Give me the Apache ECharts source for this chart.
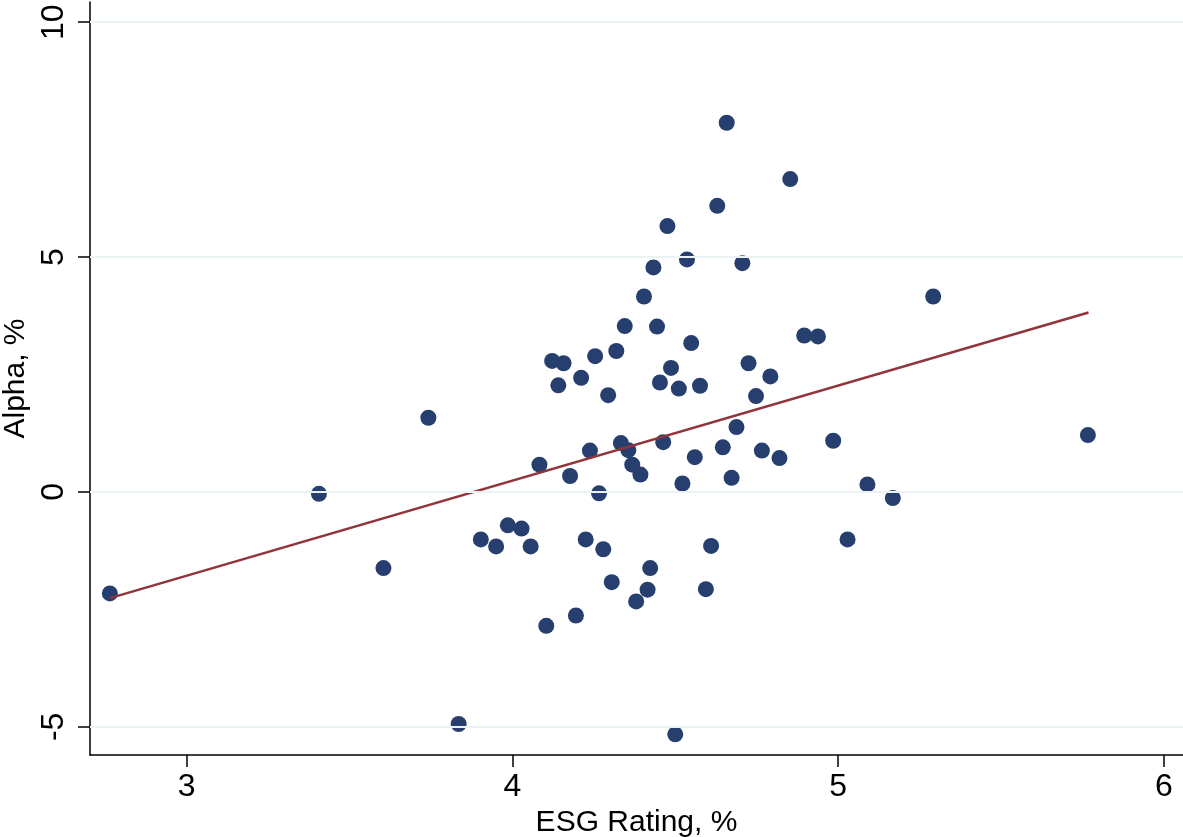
<!DOCTYPE html>
<html>
<head>
<meta charset="utf-8">
<script src="https://cdn.jsdelivr.net/npm/echarts@6/dist/echarts.min.js"></script>
<style>
html,body{margin:0;padding:0;background:#fff;}
#chart{width:1183px;height:837px;}
</style>
</head>
<body>
<div id="chart"></div>
<script>
// ESG Rating (%) values
const esg = [2.764,3.406,3.604,3.742,3.835,3.903,3.950,3.986,4.028,4.056,
  4.083,4.104,4.122,4.141,4.157,4.177,4.195,4.211,4.225,4.238,
  4.254,4.266,4.279,4.294,4.305,4.319,4.333,4.345,4.356,4.368,
  4.380,4.393,4.404,4.415,4.423,4.433,4.444,4.453,4.463,4.476,
  4.487,4.500,4.511,4.522,4.536,4.549,4.560,4.576,4.594,4.610,
  4.629,4.646,4.658,4.673,4.688,4.706,4.725,4.748,4.766,4.792,
  4.820,4.853,4.896,4.938,4.985,5.029,5.090,5.168,5.292,5.767];
// Alpha (%) values
const alpha = [-2.16,-0.04,-1.62,1.58,-4.94,-1.01,-1.16,-0.71,-0.78,-1.16,
  0.58,-2.85,2.79,2.27,2.74,0.34,-2.63,2.43,-1.01,0.88,
  2.89,-0.03,-1.22,2.06,-1.92,3.00,1.04,3.53,0.89,0.58,
  -2.33,0.37,4.16,-2.08,-1.62,4.78,3.52,2.33,1.06,5.66,
  2.64,-5.16,2.20,0.18,4.95,3.17,0.74,2.26,-2.07,-1.15,
  6.09,0.95,7.86,0.30,1.38,4.87,2.74,2.04,0.88,2.46,
  0.72,6.66,3.33,3.31,1.09,-1.01,0.16,-0.13,4.16,1.21];
// Fitted line endpoints
const fitX = [2.764, 5.769];
const fitY = [-2.26, 3.82];
// Tick values
const xTicks = [3, 4, 5, 6];
const yTicks = [-5, 0, 5, 10];

const font = '"Liberation Sans", Arial, Helvetica, sans-serif';
const chart = echarts.init(document.getElementById('chart'));
chart.setOption({
  animation: false,
  backgroundColor: '#ffffff',
  grid: {left: 90, right: 0, top: 2, bottom: 82, containLabel: false, outerBoundsMode: 'none'},
  xAxis: {
    type: 'value', min: 2.703, max: 6.059,
    name: 'ESG Rating, %', nameLocation: 'middle', nameGap: 53, nameMoveOverlap: false,
    nameTextStyle: {fontFamily: font, fontSize: 30, color: '#000'},
    axisLine: {show: true, onZero: false, lineStyle: {color: '#000', width: 1.5}},
    axisTick: {show: true, length: 12, lineStyle: {color: '#000', width: 1.5}, customValues: xTicks},
    axisLabel: {fontFamily: font, fontSize: 32, color: '#000', margin: 16, customValues: xTicks},
    splitLine: {show: false}
  },
  yAxis: {
    type: 'value', min: -5.6, max: 10.43,
    name: 'Alpha, %', nameLocation: 'middle', nameGap: 59, nameRotate: 90, nameMoveOverlap: false,
    nameTextStyle: {fontFamily: font, fontSize: 30, color: '#000'},
    axisLine: {show: true, onZero: false, lineStyle: {color: '#000', width: 1.5}},
    axisTick: {show: true, length: 12, lineStyle: {color: '#000', width: 1.5}, customValues: yTicks},
    axisLabel: {fontFamily: font, fontSize: 32, color: '#000', margin: 20, rotate: 90, customValues: yTicks},
    splitLine: {show: false}
  },
  series: [
    {
      type: 'line', data: [],
      markLine: {
        silent: true, symbol: ['none', 'none'], label: {show: false},
        lineStyle: {color: '#eaf2f3', width: 2, type: 'solid'},
        data: yTicks.map(v => ({yAxis: v}))
      }
    },
    {
      type: 'scatter', symbol: 'circle', symbolSize: 16,
      itemStyle: {color: '#263f6e', opacity: 1},
      data: esg.map((x, i) => [x, alpha[i]]),
      z: 3
    },
    {
      type: 'line', showSymbol: false, symbol: 'none',
      lineStyle: {color: '#90353b', width: 2.5},
      data: fitX.map((x, i) => [x, fitY[i]]),
      z: 4
    }
  ]
});
</script>
</body>
</html>
